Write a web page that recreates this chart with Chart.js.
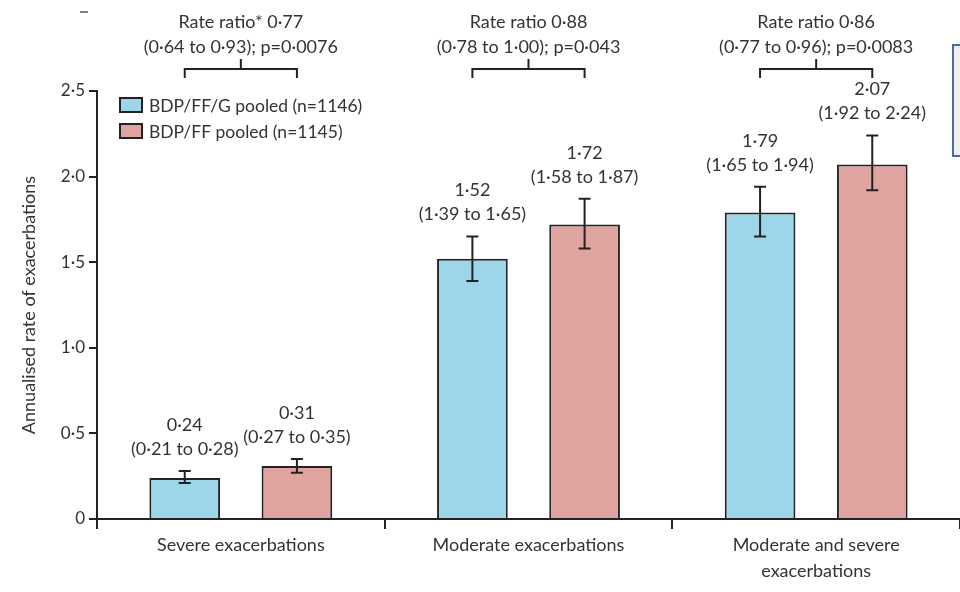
<!DOCTYPE html>
<html>
<head>
<meta charset="utf-8">
<script src="https://cdn.jsdelivr.net/npm/chart.js@4.4.0/dist/chart.umd.min.js"></script>
<style>
  html, body { margin: 0; padding: 0; background: #fff; }
</style>
</head>
<body>
<canvas id="rateChart" width="960" height="592"></canvas>
<script>
// data
const categories = [["Severe exacerbations"], ["Moderate exacerbations"], ["Moderate and severe", "exacerbations"]];
const seriesNames = ["BDP/FF/G pooled (n=1146)", "BDP/FF pooled (n=1145)"];
const tripleRate = [0.24, 1.52, 1.79];
const tripleLow = [0.21, 1.39, 1.65];
const tripleHigh = [0.28, 1.65, 1.94];
const dualRate = [0.31, 1.72, 2.07];
const dualLow = [0.27, 1.58, 1.92];
const dualHigh = [0.35, 1.87, 2.24];
const ratioTitles = ["Rate ratio* 0·77", "Rate ratio 0·88", "Rate ratio 0·86"];
const ratioDetails = ["(0·64 to 0·93); p=0·0076", "(0·78 to 1·00); p=0·043", "(0·77 to 0·96); p=0·0083"];
const yTicks = [0, 0.5, 1, 1.5, 2, 2.5];
const yTickLabels = ["0", "0·5", "1·0", "1·5", "2·0", "2·5"];

const blue = "#9dd6e8";
const pink = "#e0a4a0";
const ink = "#222222";
const textCol = "#333333";
const fontName = "Lato, 'Open Sans', sans-serif";

const fmt = v => v.toFixed(2).replace('.', '·');

// error bars, value labels, brackets, legend
const annotations = {
    id: 'annotations',
    afterDatasetsDraw(chart) {
        const c = chart.ctx;
        const y = chart.scales.y;
        const lows = [tripleLow, dualLow];
        const highs = [tripleHigh, dualHigh];
        const vals = [tripleRate, dualRate];
        c.save();
        c.strokeStyle = ink;
        c.lineWidth = 2;
        c.font = "18px " + fontName;
        c.fillStyle = textCol;
        c.textAlign = 'center';
        c.textBaseline = 'middle';
        for (let d = 0; d < 2; d++) {
            const meta = chart.getDatasetMeta(d);
            meta.data.forEach((bar, i) => {
                const x = bar.x;
                const yl = y.getPixelForValue(lows[d][i]);
                const yh = y.getPixelForValue(highs[d][i]);
                c.beginPath();
                c.moveTo(x, yl); c.lineTo(x, yh);
                c.moveTo(x - 6, yl); c.lineTo(x + 6, yl);
                c.moveTo(x - 6, yh); c.lineTo(x + 6, yh);
                c.stroke();
                c.fillText("(" + fmt(lows[d][i]) + " to " + fmt(highs[d][i]) + ")", x, yh - 22);
                c.fillText(fmt(vals[d][i]), x, yh - 46);
            });
        }
        // rate ratio brackets
        const m0 = chart.getDatasetMeta(0).data;
        const m1 = chart.getDatasetMeta(1).data;
        for (let i = 0; i < categories.length; i++) {
            const x0 = m0[i].x, x1 = m1[i].x;
            const xc = chart.scales.x.getPixelForValue(i);
            c.beginPath();
            c.moveTo(x0, 78); c.lineTo(x0, 69); c.lineTo(x1, 69); c.lineTo(x1, 78);
            c.moveTo((x0 + x1) / 2, 69); c.lineTo((x0 + x1) / 2, 59);
            c.stroke();
            c.fillText(ratioTitles[i], xc, 22);
            c.fillText(ratioDetails[i], xc, 47);
        }
        // legend
        const fills = [blue, pink];
        c.textAlign = 'left';
        c.font = "17.5px " + fontName;
        seriesNames.forEach((name, i) => {
            const ly = 98 + i * 26;
            c.fillStyle = fills[i];
            c.fillRect(120, ly, 22, 14);
            c.strokeRect(120, ly, 22, 14);
            c.fillStyle = textCol;
            c.fillText(name, 149, ly + 8);
        });
        // cut-off box at the right edge
        c.fillStyle = "#efefef";
        c.fillRect(953, 45, 20, 111);
        c.strokeStyle = "#4a6aa8";
        c.strokeRect(953, 45, 20, 111);
        // stray mark top left
        c.strokeStyle = "#555";
        c.lineWidth = 1.5;
        c.beginPath();
        c.moveTo(80, 12); c.lineTo(88, 12);
        c.stroke();
        c.restore();
    }
};

new Chart(document.getElementById('rateChart'), {
    type: 'bar',
    data: {
        labels: categories,
        datasets: [{
            label: seriesNames[0],
            data: tripleRate,
            backgroundColor: blue,
            borderColor: ink,
            borderWidth: 2,
            borderSkipped: 'bottom'
        }, {
            label: seriesNames[1],
            data: dualRate,
            backgroundColor: pink,
            borderColor: ink,
            borderWidth: 2,
            borderSkipped: 'bottom'
        }]
    },
    options: {
        responsive: false,
        animation: false,
        devicePixelRatio: 1,
        categoryPercentage: 0.78,
        barPercentage: 0.63,
        layout: { padding: { top: 91, right: 0, left: 0, bottom: 0 } },
        plugins: {
            legend: { display: false },
            tooltip: { enabled: false }
        },
        scales: {
            x: {
                grid: { offset: true, drawOnChartArea: false, drawTicks: true, tickLength: 10, color: ink, lineWidth: 2 },
                border: { display: true, color: ink, width: 2 },
                ticks: { color: textCol, font: { family: fontName, size: 18, lineHeight: 1.4 }, padding: 4, maxRotation: 0 },
                afterFit(scale) { scale.height = 73; }
            },
            y: {
                min: 0,
                max: 2.5,
                afterBuildTicks(scale) { scale.ticks = yTicks.map(v => ({ value: v })); },
                grid: { drawOnChartArea: false, drawTicks: true, tickLength: 8, color: ink, lineWidth: 2 },
                border: { display: true, color: ink, width: 2 },
                ticks: {
                    color: textCol,
                    font: { family: fontName, size: 17 },
                    padding: 4,
                    callback: (v, i) => yTickLabels[i]
                },
                title: {
                    display: true,
                    text: "Annualised rate of exacerbations",
                    color: textCol,
                    font: { family: fontName, size: 18 },
                    padding: { top: 18, bottom: 0 }
                },
                afterFit(scale) { scale.width = 97; }
            }
        }
    },
    plugins: [annotations]
});
</script>
</body>
</html>
